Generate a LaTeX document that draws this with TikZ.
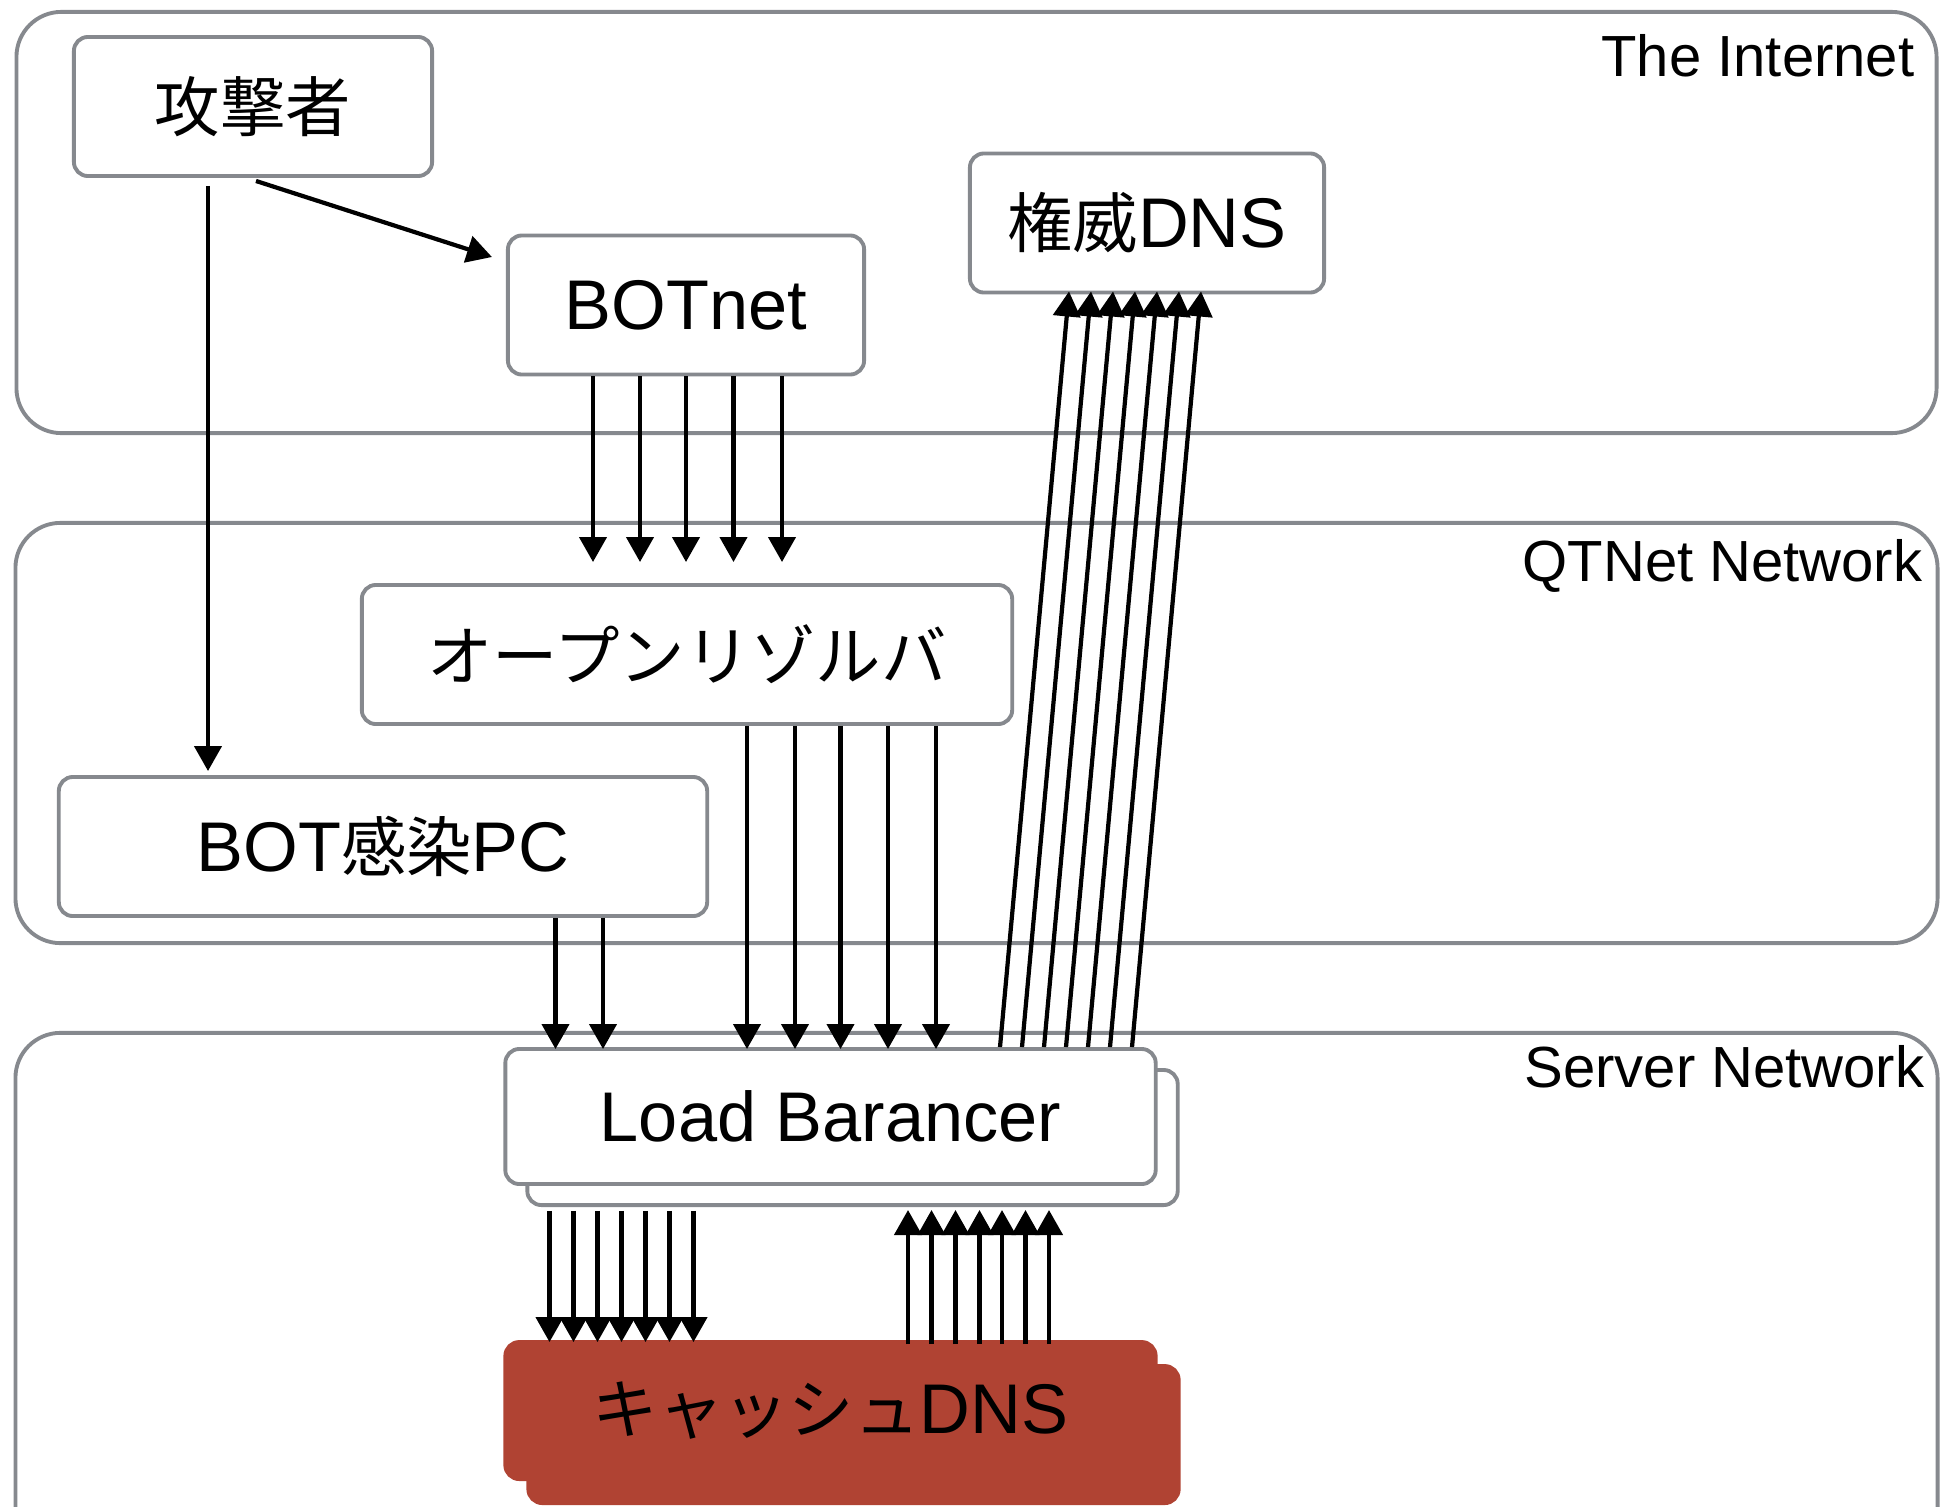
\documentclass[tikz,border=0pt]{standalone}
\usepackage{fontspec}
\setmainfont{Liberation Sans}
\newfontfamily\jp{Noto Sans CJK JP}[Scale=0.93]
\definecolor{boxgray}{RGB}{134,137,142}
\definecolor{cachered}{RGB}{176,67,51}
\newcommand{\hostfont}{\fontsize{20}{24}\selectfont}
\newcommand{\zonefont}{\fontsize{16.5}{20}\selectfont}
\usetikzlibrary{arrows.meta,shadows,positioning,calc}
\tikzset{
	zone/.style={
		rectangle,
		rounded corners=0.45cm,
		draw=boxgray,
		line width=1.1pt,
		inner sep=0pt,
	},
	zonelabel/.style={
		anchor=base east,
		inner sep=0pt,
		font=\zonefont,
	},
	host/.style={
		rectangle,
		rounded corners=0.14cm,
		draw=boxgray,
		line width=1.1pt,
		fill=white,
		inner sep=0pt,
		minimum height=1.39cm,
		font=\hostfont,
	},
	server/.style={
		host,
		copy shadow={shadow xshift=0.22cm,shadow yshift=-0.21cm,fill=white,draw=boxgray,line width=1.1pt},
	},
	cache/.style={
		host,
		fill=cachered,
		draw=cachered,
		minimum width=6.5cm,
		minimum height=1.37cm,
		copy shadow={shadow xshift=0.23cm,shadow yshift=-0.24cm,fill=cachered,draw=cachered},
	},
	link/.style={
		-{Triangle[length=2.5mm,width=2.7mm]},
		line width=1.2pt,
	},
}

\begin{document}
\begin{tikzpicture}[x=0.01cm,y=-0.01cm,node distance=1cm]
	\useasboundingbox (0,0) rectangle (1940,1506);
	\node[zone,minimum width=19.19cm,minimum height=4.21cm] (internet) at (976.5,222.5) {};
	\node[zone,minimum width=19.21cm,minimum height=4.2cm] (qtnet) at (976.5,733) {};
	\node[zone,minimum width=19.21cm,minimum height=5.4cm] (servernet) at (976.5,1303) {};
	\node[zonelabel] (internetlabel) at (1915,76) {The Internet};
	\node[zonelabel] (qtnetlabel) at (1923,581) {QTNet Network};
	\node[zonelabel] (serverlabel) at (1925,1087) {Server Network};

	\node[host,minimum width=3.58cm] (attacker) at (253,106.5) {{\jp 攻撃者}};
	\node[host,minimum width=3.56cm] (botnet) at (686,305) {BOTnet};
	\node[host,minimum width=3.54cm] (authdns) at (1147,223) {{\jp 権威}DNS};
	\node[host,minimum width=6.5cm] (resolver) at (687,654.5) {{\jp オープンリゾルバ}};
	\node[host,minimum width=6.48cm] (botpc) at (383,846.5) {BOT{\jp 感染}PC};
	\node[server,minimum width=6.5cm,minimum height=1.35cm] (lb) at (830.5,1116.5) {Load Barancer};
	\node[cache,below=1.54cm of lb] (cache) {{\jp キャッシュ}DNS};

	\draw[link] ([shift={(-45,8)}]attacker.south) -- ($(attacker.south |- botpc.north)+(-45,-4)$);
	\draw[link] ([shift={(3,3)}]attacker.south) -- ([shift={(-14,-48)}]botnet.west);

	\draw[link] ([shift={(-93,0)}]botnet.south) -- ($(botnet.south |- resolver.north)+(-93,-21)$);
	\draw[link] ([shift={(-46,0)}]botnet.south) -- ($(botnet.south |- resolver.north)+(-46,-21)$);
	\draw[link] (botnet.south) -- ($(botnet.south |- resolver.north)+(0,-21)$);
	\draw[link] ([shift={(47.5,0)}]botnet.south) -- ($(botnet.south |- resolver.north)+(47.5,-21)$);
	\draw[link] ([shift={(96,0)}]botnet.south) -- ($(botnet.south |- resolver.north)+(96,-21)$);

	\draw[link] ([shift={(60,0)}]resolver.south) -- ($(resolver.south |- lb.north)+(60,2)$);
	\draw[link] ([shift={(108,0)}]resolver.south) -- ($(resolver.south |- lb.north)+(108,2)$);
	\draw[link] ([shift={(153.5,0)}]resolver.south) -- ($(resolver.south |- lb.north)+(153.5,2)$);
	\draw[link] ([shift={(201,0)}]resolver.south) -- ($(resolver.south |- lb.north)+(201,2)$);
	\draw[link] ([shift={(249,0)}]resolver.south) -- ($(resolver.south |- lb.north)+(249,2)$);

	\draw[link] ([shift={(172.5,0)}]botpc.south) -- ($(botpc.south |- lb.north)+(172.5,2)$);
	\draw[link] ([shift={(220,0)}]botpc.south) -- ($(botpc.south |- lb.north)+(220,2)$);

	\draw[link] ([shift={(169.5,0)}]lb.north) -- ([shift={(-78,-3)}]authdns.south);
	\draw[link] ([shift={(191.5,0)}]lb.north) -- ([shift={(-56,-3)}]authdns.south);
	\draw[link] ([shift={(213.5,0)}]lb.north) -- ([shift={(-34,-3)}]authdns.south);
	\draw[link] ([shift={(235.5,0)}]lb.north) -- ([shift={(-12,-3)}]authdns.south);
	\draw[link] ([shift={(257.5,0)}]lb.north) -- ([shift={(10,-3)}]authdns.south);
	\draw[link] ([shift={(279.5,0)}]lb.north) -- ([shift={(32,-3)}]authdns.south);
	\draw[link] ([shift={(301.5,0)}]lb.north) -- ([shift={(54,-3)}]authdns.south);

	\draw[link] ([shift={(-281,25)}]lb.south) -- ($(lb.south |- cache.north)+(-281,2)$);
	\draw[link] ([shift={(-257,25)}]lb.south) -- ($(lb.south |- cache.north)+(-257,2)$);
	\draw[link] ([shift={(-233,25)}]lb.south) -- ($(lb.south |- cache.north)+(-233,2)$);
	\draw[link] ([shift={(-209,25)}]lb.south) -- ($(lb.south |- cache.north)+(-209,2)$);
	\draw[link] ([shift={(-185,25)}]lb.south) -- ($(lb.south |- cache.north)+(-185,2)$);
	\draw[link] ([shift={(-161,25)}]lb.south) -- ($(lb.south |- cache.north)+(-161,2)$);
	\draw[link] ([shift={(-137,25)}]lb.south) -- ($(lb.south |- cache.north)+(-137,2)$);

	\draw[link] ([shift={(77.5,4)}]cache.north) -- ($(cache.north |- lb.south)+(77.5,24)$);
	\draw[link] ([shift={(101,4)}]cache.north) -- ($(cache.north |- lb.south)+(101,24)$);
	\draw[link] ([shift={(125,4)}]cache.north) -- ($(cache.north |- lb.south)+(125,24)$);
	\draw[link] ([shift={(149,4)}]cache.north) -- ($(cache.north |- lb.south)+(149,24)$);
	\draw[link] ([shift={(171.5,4)}]cache.north) -- ($(cache.north |- lb.south)+(171.5,24)$);
	\draw[link] ([shift={(195,4)}]cache.north) -- ($(cache.north |- lb.south)+(195,24)$);
	\draw[link] ([shift={(218.5,4)}]cache.north) -- ($(cache.north |- lb.south)+(218.5,24)$);
\end{tikzpicture}
\end{document}
